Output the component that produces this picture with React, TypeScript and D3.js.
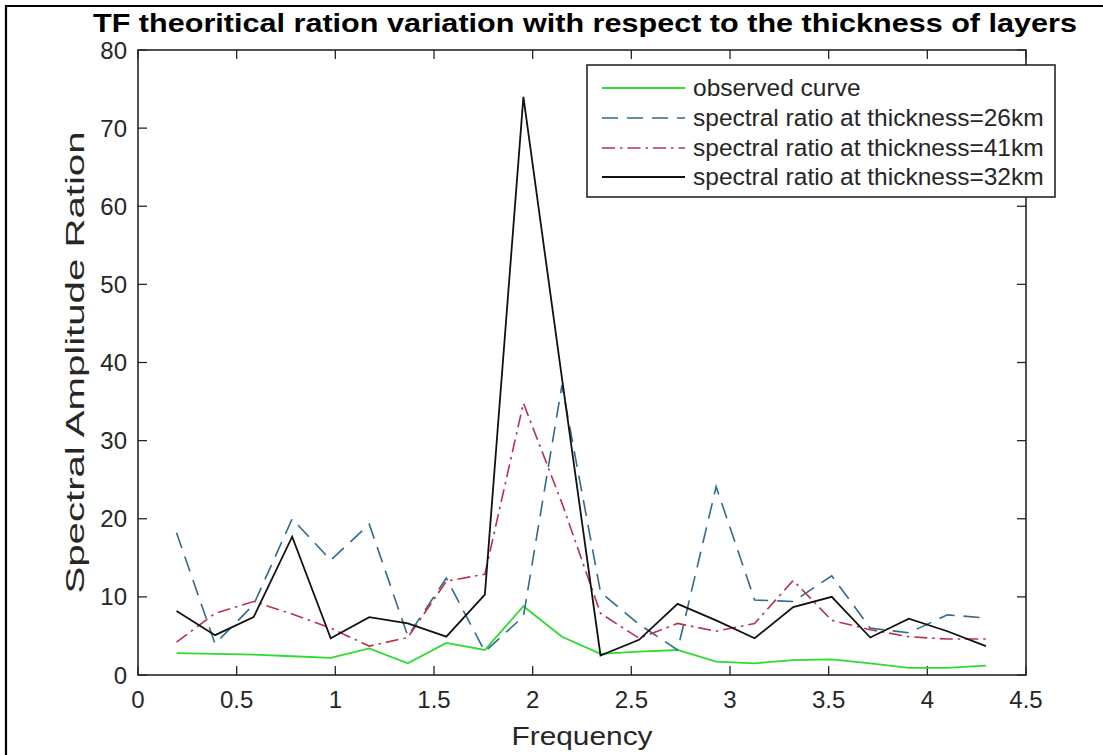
import React from "react";
import * as d3 from "d3";

const frequency = [0.1953, 0.3906, 0.5859, 0.7813, 0.9766, 1.1719, 1.3672, 1.5625, 1.7578, 1.9531, 2.1484, 2.3438, 2.5391, 2.7344, 2.9297, 3.125, 3.3203, 3.5156, 3.7109, 3.9063, 4.1016, 4.2969];
const observed = [2.8, 2.7, 2.6, 2.4, 2.2, 3.4, 1.5, 4.1, 3.2, 8.8, 4.9, 2.7, 3.0, 3.2, 1.7, 1.5, 1.9, 2.0, 1.5, 0.9, 0.9, 1.2];
const ratio26 = [18.2, 4.0, 9.0, 20.0, 14.7, 19.3, 5.0, 12.4, 3.0, 7.5, 37.1, 10.6, 6.5, 3.2, 24.1, 9.6, 9.4, 12.7, 6.0, 5.4, 7.7, 7.3];
const ratio41 = [4.2, 7.9, 9.4, 7.8, 6.0, 3.7, 4.8, 12.0, 12.9, 34.8, 22.0, 7.9, 4.7, 6.6, 5.6, 6.6, 12.1, 7.0, 5.8, 4.9, 4.6, 4.6];
const ratio32 = [8.2, 5.1, 7.4, 17.7, 4.7, 7.4, 6.6, 4.9, 10.3, 74.0, 38.0, 2.5, 4.5, 9.1, 7.0, 4.7, 8.7, 10.0, 4.8, 7.2, 5.6, 3.7];

const seriesNames = [
  "observed curve",
  "spectral ratio at thickness=26km",
  "spectral ratio at thickness=41km",
  "spectral ratio at thickness=32km",
];
const xTicks = [0, 0.5, 1, 1.5, 2, 2.5, 3, 3.5, 4, 4.5];
const yTicks = [0, 10, 20, 30, 40, 50, 60, 70, 80];

const titleText = "TF theoritical ration variation with respect to the thickness of layers";
const xLabel = "Frequency";
const yLabel = "Spectral Amplitude Ration";

const W = 1103;
const H = 755;
const M = { left: 138, right: 1026, top: 50, bottom: 675 };
const FONT = "'Liberation Sans', Arial, Helvetica, sans-serif";
const AX = "#262626";

export default function App() {
  const x = d3.scaleLinear().domain([0, 4.5]).range([M.left, M.right]);
  const y = d3.scaleLinear().domain([0, 80]).range([M.bottom, M.top]);
  const line = d3
    .line<[number, number]>()
    .x((d) => x(d[0]))
    .y((d) => y(d[1]));
  const mk = (vals: number[]) => line(frequency.map((f, i) => [f, vals[i]] as [number, number])) || "";

  const series = [
    { name: seriesNames[0], vals: observed, color: "#2ddc2d", dash: "none", width: 1.8 },
    { name: seriesNames[1], vals: ratio26, color: "#2f6a8f", dash: "16 9", width: 1.6 },
    { name: seriesNames[2], vals: ratio41, color: "#c0304a", dash: "13 5 2.5 5", width: 1.6 },
    { name: seriesNames[3], vals: ratio32, color: "#111111", dash: "none", width: 1.8 },
  ];

  const tl = 9;
  const legend = { x: 587, y: 65, w: 468, h: 132 };
  const rowY = [88, 118, 148, 177];

  return (
    <svg
      width={W}
      height={H}
      style={{ position: "absolute", left: 0, top: 0, background: "#fff" }}
      fontFamily={FONT}
    >
      <rect x={0} y={0} width={W} height={H} fill="#fff" />
      <line x1={6} x2={6} y1={5} y2={H} stroke="#000" strokeWidth={2.2} />
      <line x1={5} x2={W} y1={6} y2={6} stroke="#000" strokeWidth={2.2} />

      <text
        x={585}
        y={32}
        textAnchor="middle"
        fontWeight="bold"
        fontSize={26}
        fill="#000"
        textLength={984}
        lengthAdjust="spacingAndGlyphs"
      >
        {titleText}
      </text>

      {/* ticks */}
      {xTicks.map((t) => (
        <g key={"xt" + t}>
          <line x1={x(t)} x2={x(t)} y1={M.bottom} y2={M.bottom - tl} stroke={AX} strokeWidth={1.3} />
          <line x1={x(t)} x2={x(t)} y1={M.top} y2={M.top + tl} stroke={AX} strokeWidth={1.3} />
          <text x={x(t)} y={708} textAnchor="middle" fontSize={24} fill={AX}>
            {String(t)}
          </text>
        </g>
      ))}
      {yTicks.map((t) => (
        <g key={"yt" + t}>
          <line x1={M.left} x2={M.left + tl} y1={y(t)} y2={y(t)} stroke={AX} strokeWidth={1.3} />
          <line x1={M.right} x2={M.right - tl} y1={y(t)} y2={y(t)} stroke={AX} strokeWidth={1.3} />
          <text x={127} y={y(t) + 8.5} textAnchor="end" fontSize={24} fill={AX}>
            {String(t)}
          </text>
        </g>
      ))}

      {/* series */}
      {series.map((s) => (
        <path
          key={s.name}
          d={mk(s.vals)}
          fill="none"
          stroke={s.color}
          strokeWidth={s.width}
          strokeDasharray={s.dash}
          strokeLinejoin="miter"
        />
      ))}

      {/* box */}
      <rect
        x={M.left}
        y={M.top}
        width={M.right - M.left}
        height={M.bottom - M.top}
        fill="none"
        stroke={AX}
        strokeWidth={1.6}
      />

      {/* axis labels */}
      <text
        x={(M.left + M.right) / 2}
        y={745}
        textAnchor="middle"
        fontSize={25}
        fill={AX}
        textLength={141}
        lengthAdjust="spacingAndGlyphs"
      >
        {xLabel}
      </text>
      <text
        transform={`translate(${84},${y(40)}) rotate(-90)`}
        textAnchor="middle"
        fontSize={25}
        fill={AX}
        textLength={462}
        lengthAdjust="spacingAndGlyphs"
      >
        {yLabel}
      </text>

      {/* legend */}
      <rect x={legend.x} y={legend.y} width={legend.w} height={legend.h} fill="#fff" stroke={AX} strokeWidth={1.6} />
      {series.map((s, i) => (
        <g key={"lg" + i}>
          <line
            x1={602}
            x2={685}
            y1={rowY[i]}
            y2={rowY[i]}
            stroke={s.color}
            strokeWidth={s.width}
            strokeDasharray={s.dash}
          />
          <text x={693} y={rowY[i] + 8} fontSize={24.5} fill={AX}>
            {s.name}
          </text>
        </g>
      ))}
    </svg>
  );
}
